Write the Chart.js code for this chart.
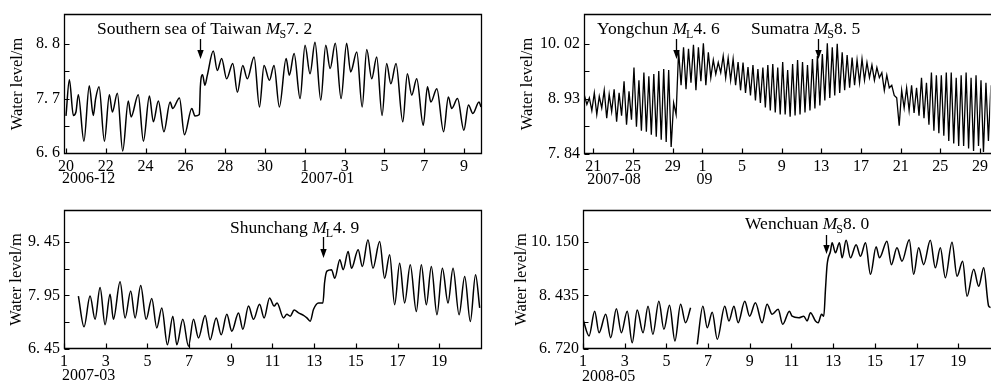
<!DOCTYPE html>
<html><head><meta charset="utf-8">
<script src="https://cdn.jsdelivr.net/npm/chart.js@4.4.1/dist/chart.umd.min.js"></script>
<style>
html,body{margin:0;padding:0;background:#fff;width:991px;height:383px;overflow:hidden;position:relative;}
canvas{position:absolute;}
</style></head><body>
<canvas id="c1" width="491" height="190" style="left:0;top:0"></canvas>
<canvas id="c2" width="491" height="190" style="left:500px;top:0"></canvas>
<canvas id="c3" width="491" height="193" style="left:0;top:190px"></canvas>
<canvas id="c4" width="491" height="193" style="left:500px;top:190px"></canvas>
<script>
// ---------- Panel 1: 2006-12-20 .. 2007-01-10 (x = day counted from Dec 1) ----------
const p1Day = [20.00,20.17,20.37,20.50,20.62,20.90,21.17,21.37,21.49,21.66,21.93,22.18,22.33,22.58,22.85,23.13,23.27,23.63,23.89,24.19,24.39,24.64,24.92,25.23,25.36,25.70,25.95,26.32,26.48,26.70,26.75,26.86,26.98,27.10,27.40,27.60,27.82,28.07,28.38,28.61,28.88,29.11,29.45,29.72,29.95,30.22,30.45,30.72,31.06,31.22,31.46,31.76,32.01,32.26,32.51,32.80,33.05,33.27,33.53,33.82,34.10,34.30,34.61,34.88,35.11,35.36,35.61,35.88,36.11,36.32,36.58,36.92,37.15,37.37,37.62,37.95,38.16,38.33,38.63,38.97,39.21,39.38,39.67,39.99,40.22,40.44,40.75,40.85];
const p1Level = [7.35,8.08,7.36,7.43,7.78,6.84,7.96,7.36,7.70,7.94,6.84,7.78,7.43,7.81,6.64,7.65,7.33,7.78,6.84,7.75,7.23,7.65,7.03,7.63,7.50,7.71,6.97,7.50,7.35,7.38,7.94,8.18,7.97,8.17,8.66,8.27,8.51,8.10,8.41,7.83,8.37,8.10,8.54,7.53,8.37,8.07,8.37,7.53,8.51,8.17,8.61,7.70,8.78,8.20,8.84,7.67,8.78,8.31,8.82,7.70,8.82,8.24,8.64,7.53,8.69,8.10,8.54,7.36,8.41,8.00,8.41,7.23,8.20,7.77,8.10,7.16,7.94,7.63,7.90,7.03,7.73,7.50,7.70,7.06,7.57,7.40,7.63,7.53];
const p1XTicks = [20,22,24,26,28,30,32,34,36,38,40];
const p1XLabels = ['20','22','24','26','28','30','1','3','5','7','9'];
const p1YTicks = [6.6,7.15,7.7,8.25,8.8];
const p1YLabels = ['6. 6','','7. 7','','8. 8'];
const p1MonthAt = [20,32];
const p1MonthText = ['2006-12','2007-01'];
const p1EventDay = [26.75];
const p1EventName = ['Southern sea of Taiwan'];
const p1EventSub = ['S'];
const p1EventMag = ['7. 2'];

// ---------- Panel 2: 2007-08-20 .. 2007-09-30 (x = day counted from Aug 0; Sep 1 = 32) ----------
const p2Start = 20.1, p2Step = 0.25; // sampling of successive high/low readings
const p2Level = [
 9.00,8.82,8.95,8.70, 9.05,8.62,8.98,8.75, 9.10,8.55,9.02,8.68, 9.12,8.48,9.05,8.60,
 9.28,8.42,9.08,8.52, 9.55,8.38,9.30,8.30, 9.45,8.28,9.38,8.22, 9.42,8.18,9.48,8.12,
 9.52,8.08,9.50,7.98, 8.85,8.62,9.88,9.20, 9.95,9.12,9.92,9.25, 10.00,9.10,9.95,9.28,
 10.03,9.20,9.85,9.35, 9.70,9.42,9.65,9.45, 9.78,9.35,9.74,9.30, 9.72,9.20,9.66,9.10,
 9.65,9.05,9.56,9.00, 9.60,8.90,9.52,8.85, 9.55,8.76,9.60,8.70, 9.62,8.66,9.55,8.62,
 9.66,8.62,9.50,8.58, 9.62,8.60,9.70,8.62, 9.66,8.66,9.60,8.70, 9.72,8.74,9.78,8.80,
 9.82,8.90,10.03,8.95, 9.95,9.00,10.02,9.05, 9.85,9.10,9.80,9.15, 9.75,9.20,9.70,9.25,
 9.72,9.30,9.65,9.35, 9.60,9.30,9.55,9.35, 9.45,9.10,9.40,9.15, 9.20,9.00,8.95,8.40,
 9.10,8.75,9.15,8.70, 9.20,8.65,9.15,8.60, 9.35,8.55,9.25,8.42, 9.45,8.30,9.40,8.25,
 9.40,8.20,9.45,8.10, 9.45,8.05,9.35,8.00, 9.40,8.00,9.45,7.95, 9.35,7.90,9.40,8.00,
 9.30,7.88,9.25,8.10, 9.20];
const p2XTicks = [21,25,29,32,36,40,44,48,52,56,60];
const p2XLabels = ['21','25','29','1','5','9','13','17','21','25','29'];
const p2YTicks = [7.84,8.385,8.93,9.475,10.02];
const p2YLabels = ['7. 84','','8. 93','','10. 02'];
const p2MonthAt = [21,32];
const p2MonthText = ['2007-08','09'];
const p2EventDay = [29.3,43.7];
const p2EventName = ['Yongchun','Sumatra'];
const p2EventSub = ['L','S'];
const p2EventMag = ['4. 6','8. 5'];

// ---------- Panel 3: 2007-03-01 .. 2007-03-21 ----------
const p3Day = [1.69,1.96,2.25,2.49,2.73,2.97,3.21,3.37,3.69,3.93,4.20,4.41,4.68,4.94,5.21,5.45,5.69,5.96,6.22,6.41,6.70,6.97,7.21,7.45,7.77,8.01,8.30,8.54,8.81,9.05,9.37,9.58,9.85,10.09,10.38,10.60,10.86,11.08,11.22,11.53,11.69,11.85,12.04,12.25,12.49,12.65,12.81,12.97,13.21,13.42,13.50,13.61,13.83,13.99,14.23,14.39,14.63,14.79,15.11,15.31,15.58,15.82,16.14,16.38,16.62,16.86,17.10,17.34,17.61,17.90,18.14,18.38,18.62,18.89,19.15,19.42,19.66,19.95,20.22,20.49,20.74,20.94];
const p3Level = [7.93,7.07,7.93,7.28,8.17,7.13,7.98,7.28,8.33,7.32,8.07,7.32,8.23,7.28,7.86,7.04,7.60,6.57,7.37,6.57,7.28,6.53,7.28,6.76,7.39,6.71,7.32,6.85,7.42,6.95,7.46,7.00,7.65,7.28,7.70,7.32,7.88,7.65,7.74,7.32,7.42,7.37,7.54,7.46,7.39,7.32,7.23,7.56,7.74,7.74,8.31,8.63,8.67,8.43,8.95,8.67,9.18,8.71,9.23,8.76,9.51,8.71,9.46,8.43,9.09,7.69,8.85,7.74,8.81,7.50,8.81,7.69,8.76,7.41,8.71,7.74,8.71,7.41,8.48,7.22,8.53,7.60];
const p3XTicks = [1,3,5,7,9,11,13,15,17,19];
const p3XLabels = ['1','3','5','7','9','11','13','15','17','19'];
const p3YTicks = [6.45,7.2,7.95,8.7,9.45];
const p3YLabels = ['6. 45','','7. 95','','9. 45'];
const p3MonthAt = [1];
const p3MonthText = ['2007-03'];
const p3EventDay = [13.42];
const p3EventName = ['Shunchang'];
const p3EventSub = ['L'];
const p3EventMag = ['4. 9'];

// ---------- Panel 4: 2008-05-01 .. 2008-05-20 (null = missing record) ----------
const p4Day = [1.00,1.29,1.56,1.77,2.09,2.33,2.60,2.84,3.12,3.36,3.60,3.88,4.12,4.35,4.64,4.88,5.15,5.41,5.68,5.92,6.16,6.30,6.48,6.75,6.96,7.20,7.44,7.80,8.00,8.24,8.44,8.76,8.99,9.27,9.59,9.83,10.07,10.36,10.58,10.90,11.03,11.35,11.59,11.75,11.91,12.15,12.28,12.44,12.55,12.63,12.71,12.87,12.95,13.11,13.30,13.43,13.62,13.83,14.10,14.31,14.55,14.79,15.06,15.22,15.58,15.79,16.06,16.30,16.65,16.86,17.10,17.34,17.66,17.90,18.14,18.38,18.70,18.94,19.21,19.42,19.74,19.98,20.22,20.46,20.55];
const p4Level = [7.67,7.14,7.93,7.24,7.83,7.08,8.01,7.24,7.93,6.92,7.97,7.24,8.09,7.19,8.25,7.35,8.12,6.98,8.15,7.56,8.04,null,6.87,8.09,7.40,7.90,7.03,8.09,7.62,8.09,7.56,8.25,7.77,8.20,7.56,8.15,7.83,7.99,7.51,7.93,7.77,7.72,7.77,7.62,7.88,7.62,7.56,7.83,7.77,8.63,9.42,9.85,10.12,9.80,10.12,9.64,10.20,9.64,10.06,9.69,10.12,9.11,9.99,9.64,10.17,9.42,9.96,9.53,10.22,9.11,9.96,9.42,10.20,9.32,9.96,9.00,10.14,9.05,9.53,8.41,9.27,8.73,9.32,8.09,8.05];
const p4XTicks = [1,3,5,7,9,11,13,15,17,19];
const p4XLabels = ['1','3','5','7','9','11','13','15','17','19'];
const p4YTicks = [6.72,7.5775,8.435,9.2925,10.15];
const p4YLabels = ['6. 720','','8. 435','','10. 150'];
const p4MonthAt = [1];
const p4MonthText = ['2008-05'];
const p4EventDay = [12.65];
const p4EventName = ['Wenchuan'];
const p4EventSub = ['S'];
const p4EventMag = ['8. 0'];

const yTitle = 'Water level/m';
const SERIF = '"Liberation Serif", "Times New Roman", serif';

const framePlugin = {
  id: 'frame',
  afterDraw(chart, args, o) {
    const {ctx, chartArea: a} = chart;
    const x = chart.scales.x, y = chart.scales.y;
    ctx.save();
    ctx.strokeStyle = '#000'; ctx.fillStyle = '#000';
    ctx.lineWidth = 1.3;
    const L = Math.round(a.left) + 0.5, T = Math.round(a.top) + 0.5, B = Math.round(a.bottom) - 0.5, R = Math.round(a.right) - 0.5;
    ctx.beginPath();
    if (o.closeRight) { ctx.rect(L, T, R - L, B - T); }
    else { ctx.moveTo(R + 2, T); ctx.lineTo(L, T); ctx.lineTo(L, B); ctx.lineTo(R + 2, B); }
    ctx.stroke();
    ctx.lineWidth = 1.2;
    ctx.beginPath();
    y.ticks.forEach(t => { const py = Math.round(y.getPixelForValue(t.value)) + 0.5; ctx.moveTo(L, py); ctx.lineTo(L + 5, py); });
    x.ticks.forEach(t => { const px = Math.round(x.getPixelForValue(t.value)) + 0.5; ctx.moveTo(px, B); ctx.lineTo(px, B - 5); });
    ctx.stroke();
    // month labels (second row of the x axis)
    ctx.font = '16px ' + SERIF; ctx.textBaseline = 'middle'; ctx.textAlign = 'left';
    o.monthAt.forEach((m, i) => ctx.fillText(o.monthText[i], x.getPixelForValue(m) + o.monthDx, a.bottom + o.monthDy));
    // earthquake annotations
    o.eventDay.forEach((d, i) => {
      const px = Math.round(x.getPixelForValue(d)) + 0.5;
      const p = o.pos[i];
      ctx.lineWidth = 1.3;
      ctx.beginPath(); ctx.moveTo(px, p.y0); ctx.lineTo(px, p.y1 - 6); ctx.stroke();
      ctx.beginPath(); ctx.moveTo(px - 3.2, p.y1 - 9); ctx.lineTo(px + 3.2, p.y1 - 9); ctx.lineTo(px, p.y1); ctx.closePath(); ctx.fill();
      let cx = p.tx;
      ctx.textBaseline = 'alphabetic'; ctx.textAlign = 'left';
      ctx.font = '17.5px ' + SERIF;
      const nm = o.eventName[i] + ' ';
      ctx.fillText(nm, cx, p.ty); cx += ctx.measureText(nm).width;
      ctx.font = 'italic 17.5px ' + SERIF;
      ctx.fillText('M', cx, p.ty); cx += ctx.measureText('M').width - 1;
      ctx.font = '12px ' + SERIF;
      ctx.fillText(o.eventSub[i], cx, p.ty + 4); cx += ctx.measureText(o.eventSub[i]).width;
      ctx.font = '17.5px ' + SERIF;
      ctx.fillText(o.eventMag[i], cx, p.ty);
    });
    ctx.restore();
  }
};

function makeChart(id, c) {
  return new Chart(document.getElementById(id), {
    type: 'line',
    data: { datasets: [{
      data: c.points, borderColor: '#000', borderWidth: c.lw, pointRadius: 0,
      cubicInterpolationMode: c.smooth ? 'monotone' : 'default', tension: 0, spanGaps: false
    }] },
    options: {
      responsive: false, animation: false, devicePixelRatio: 1, parsing: true,
      layout: { padding: { top: c.padTop, right: c.padRight, left: 0, bottom: 0 } },
      plugins: { legend: { display: false }, tooltip: { enabled: false }, frame: c.frame },
      scales: {
        x: {
          type: 'linear', min: c.xMin, max: c.xMax, bounds: 'data',
          grid: { display: false, drawTicks: false }, border: { display: false },
          afterBuildTicks: s => { s.ticks = c.xTicks.map(v => ({ value: v })); },
          afterFit: s => { s.height = c.xHeight; },
          ticks: { autoSkip: false, maxRotation: 0, minRotation: 0, padding: c.xPad, color: '#000',
                   font: { family: SERIF, size: 16 }, callback: (v, i) => c.xLabels[i] }
        },
        y: {
          type: 'linear', min: c.yMin, max: c.yMax, bounds: 'data',
          grid: { display: false, drawTicks: false }, border: { display: false },
          afterBuildTicks: s => { s.ticks = c.yTicks.map(v => ({ value: v })); },
          afterFit: s => { s.width = c.yWidth; },
          ticks: { autoSkip: false, padding: 4, color: '#000',
                   font: { family: SERIF, size: 16 }, callback: (v, i) => c.yLabels[i] },
          title: { display: true, text: yTitle, color: '#000', font: { family: SERIF, size: 16.5 },
                   padding: { top: c.titlePad, bottom: 0 } }
        }
      }
    },
    plugins: [framePlugin]
  });
}

makeChart('c1', {
  points: p1Day.map((d, i) => ({ x: d, y: p1Level[i] })), smooth: true, lw: 1.5,
  xMin: 19.9, xMax: 40.9, yMin: 6.58, yMax: 9.41,
  xTicks: p1XTicks, xLabels: p1XLabels, yTicks: p1YTicks, yLabels: p1YLabels,
  padTop: 14, padRight: 9, xHeight: 36, yWidth: 64, xPad: 3, titlePad: 8,
  frame: { closeRight: true, monthAt: p1MonthAt, monthText: p1MonthText, monthDx: -4, monthDy: 25,
           eventDay: p1EventDay, eventName: p1EventName, eventSub: p1EventSub, eventMag: p1EventMag,
           pos: [{ tx: 97, ty: 34, y0: 39, y1: 59 }] }
});
makeChart('c2', {
  points: p2Level.map((v, i) => ({ x: p2Start + i * p2Step, y: v })), smooth: false, lw: 1.3,
  xMin: 20.06, xMax: 61.05, yMin: 7.84, yMax: 10.61,
  xTicks: p2XTicks, xLabels: p2XLabels, yTicks: p2YTicks, yLabels: p2YLabels,
  padTop: 14, padRight: 0, xHeight: 36, yWidth: 84, xPad: 3, titlePad: 18,
  frame: { closeRight: false, monthAt: p2MonthAt, monthText: p2MonthText, monthDx: -6, monthDy: 26,
           eventDay: p2EventDay, eventName: p2EventName, eventSub: p2EventSub, eventMag: p2EventMag,
           pos: [{ tx: 97, ty: 34, y0: 39, y1: 59 }, { tx: 251, ty: 34, y0: 39, y1: 59 }] }
});
makeChart('c3', {
  points: p3Day.map((d, i) => ({ x: d, y: p3Level[i] })), smooth: true, lw: 1.5,
  xMin: 1, xMax: 21.05, yMin: 6.45, yMax: 10.34,
  xTicks: p3XTicks, xLabels: p3XLabels, yTicks: p3YTicks, yLabels: p3YLabels,
  padTop: 20, padRight: 9, xHeight: 34, yWidth: 64, xPad: 3, titlePad: 7,
  frame: { closeRight: true, monthAt: p3MonthAt, monthText: p3MonthText, monthDx: -2, monthDy: 27,
           eventDay: p3EventDay, eventName: p3EventName, eventSub: p3EventSub, eventMag: p3EventMag,
           pos: [{ tx: 230, ty: 43, y0: 47, y1: 68 }] }
});
makeChart('c4', {
  points: p4Day.map((d, i) => ({ x: d, y: p4Level[i] })), smooth: true, lw: 1.5,
  xMin: 1, xMax: 20.57, yMin: 6.72, yMax: 11.17,
  xTicks: p4XTicks, xLabels: p4XLabels, yTicks: p4YTicks, yLabels: p4YLabels,
  padTop: 20, padRight: 0, xHeight: 34, yWidth: 83, xPad: 3, titlePad: 12,
  frame: { closeRight: false, monthAt: p4MonthAt, monthText: p4MonthText, monthDx: -1, monthDy: 28,
           eventDay: p4EventDay, eventName: p4EventName, eventSub: p4EventSub, eventMag: p4EventMag,
           pos: [{ tx: 245, ty: 39, y0: 45, y1: 64 }] }
});
</script>
</body></html>
